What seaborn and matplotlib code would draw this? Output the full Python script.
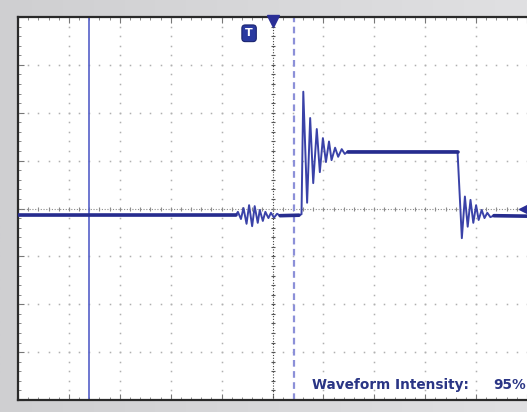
import numpy as np
import pandas as pd
import matplotlib
matplotlib.use("Agg")
import matplotlib.pyplot as plt
import matplotlib.transforms as mtransforms
import seaborn as sns

time_div = [0.0, 4.28, 4.32, 4.38, 4.43, 4.49, 4.54, 4.60, 4.65, 4.71, 4.75, 4.81,
            4.86, 4.92, 4.97, 5.03, 5.09, 5.15, 5.52, 5.57, 5.605, 5.68, 5.74,
            5.80, 5.87, 5.93, 5.99, 6.05, 6.11, 6.16, 6.23, 6.29, 6.36, 6.42,
            6.48, 8.635, 8.72, 8.78, 8.835, 8.89, 8.945, 9.00, 9.05, 9.11,
            9.165, 9.22, 9.28, 9.35, 10.0]
volt_div = [-0.14, -0.14, -0.07, -0.22, 0.01, -0.32, 0.07, -0.37, 0.05, -0.30, -0.03,
            -0.26, -0.07, -0.20, -0.09, -0.19, -0.11, -0.15, -0.14, -0.12, 2.44,
            0.12, 1.89, 0.53, 1.66, 0.76, 1.47, 0.97, 1.40, 1.01, 1.27, 1.08,
            1.24, 1.14, 1.19, 1.19, -0.62, 0.25, -0.38, 0.18, -0.30, 0.07,
            -0.24, -0.03, -0.20, -0.09, -0.18, -0.15, -0.16]

cursor_solid = 1.395
cursor_dashed = 5.42
trigger_pos = 5.0
trigger_level = -0.01
intensity_label = "Waveform Intensity:"
intensity_value = "95%"

wave = pd.DataFrame({"t": time_div, "v": volt_div})
flat_segments = [(0.0, 4.28), (5.15, 5.52), (6.48, 8.635), (9.35, 10.0)]

sns.set_theme(style="white")
plt.rcParams['font.family'] = ['DejaVu Sans']

W, H = 527, 412
fig = plt.figure(figsize=(W / 100, H / 100), dpi=100, facecolor="#d6d6d8")

# background gradient
bg = fig.add_axes([0, 0, 1, 1], zorder=-10)
grad = np.linspace(0, 1, 256)[None, :]
bg.imshow(grad, aspect="auto", cmap=matplotlib.colors.LinearSegmentedColormap.from_list(
    "g", ["#cfcfd1", "#e0e0e2"]), extent=[0, 1, 0, 1])
bg.axis("off")

left, top, bottom = 18, 17, 400
ax = fig.add_axes([left / W, (H - bottom) / H, (W - left) / W, (bottom - top) / H])
ax.set_facecolor("white")
ax.set_xlim(0, 10)
ax.set_ylim(-4, 4)

# grid dots
minor = np.arange(0, 10.001, 0.2)
minor_y = np.arange(-4, 4.001, 0.2)
for gx in range(1, 10):
    if gx == 5:
        continue
    ax.plot(np.full_like(minor_y, gx), minor_y, ls="none", marker="s", ms=1.1,
            mew=0, color="#b0b0b0", zorder=1)
for gy in range(-3, 4):
    if gy == 0:
        continue
    ax.plot(minor, np.full_like(minor, gy), ls="none", marker="s", ms=1.1,
            mew=0, color="#b0b0b0", zorder=1)

# center crosshair with ticks
ax.axvline(5, color="#444444", lw=0.8, ls=(0, (1, 1.5)), zorder=1)
ax.plot(np.full_like(minor_y, 5), minor_y, ls="none", marker="_", ms=3.5, mew=0.8,
        color="#555555", zorder=1)
ax.axhline(0, color="#8a8a8a", lw=0.8, ls=(0, (1, 1.5)), zorder=1)
ax.plot(minor, np.zeros_like(minor), ls="none", marker="|", ms=3.5, mew=0.8,
        color="#8a8a8a", zorder=1)

# edge ticks
ax.set_xticks(np.arange(0, 10.01, 1))
ax.set_xticks(minor, minor=True)
ax.set_yticks(np.arange(-4, 4.01, 1))
ax.set_yticks(minor_y, minor=True)
ax.tick_params(which="both", direction="in", top=True, bottom=True, left=True,
               right=False, labelbottom=False, labelleft=False, color="#777777")
ax.tick_params(which="major", length=4, width=0.8)
ax.tick_params(which="minor", length=2.5, width=0.6)
for s in ["top", "left", "bottom"]:
    ax.spines[s].set_color("#2a2a2a")
    ax.spines[s].set_linewidth(1.6)
ax.spines["right"].set_visible(False)

# cursors
ax.axvline(cursor_solid, color="#5560c8", lw=1.2, zorder=2)
ax.axvline(cursor_dashed, color="#8c90d8", lw=1.6, ls=(0, (3, 2)), zorder=2)

# waveform
sns.lineplot(data=wave, x="t", y="v", estimator=None, sort=False, ax=ax,
             color="#3a42a8", lw=1.4, zorder=4)
for a, b in flat_segments:
    seg = wave[(wave.t >= a) & (wave.t <= b)]
    sns.lineplot(data=seg, x="t", y="v", estimator=None, sort=False, ax=ax,
                 color="#262c8e", lw=2.6, zorder=5)
ax.set_xlabel("")
ax.set_ylabel("")

# markers
blend = mtransforms.blended_transform_factory(ax.transData, ax.transAxes)
ax.plot([trigger_pos], [0.99], transform=blend, marker="v", ms=8, color="#2a2e96",
        clip_on=False, zorder=6)
ax.text(4.54, 3.66, "T", color="white", fontsize=8, fontweight="bold",
        ha="center", va="center", zorder=6,
        bbox=dict(boxstyle="round,pad=0.3", fc="#2a3aa0", ec="#1a2470", lw=0.8))
ax.plot([9.96], [trigger_level], marker="<", ms=8, color="#2a2e96",
        clip_on=False, zorder=6)

ax.text(5.78, -3.77, intensity_label, color="#2a3585", fontsize=9.8,
        fontweight="bold", ha="left", va="baseline", zorder=6)
ax.text(9.33, -3.77, intensity_value, color="#2a3585", fontsize=9.8,
        fontweight="bold", ha="left", va="baseline", zorder=6, clip_on=False)

fig.savefig("out.png", dpi=100, facecolor=fig.get_facecolor())
